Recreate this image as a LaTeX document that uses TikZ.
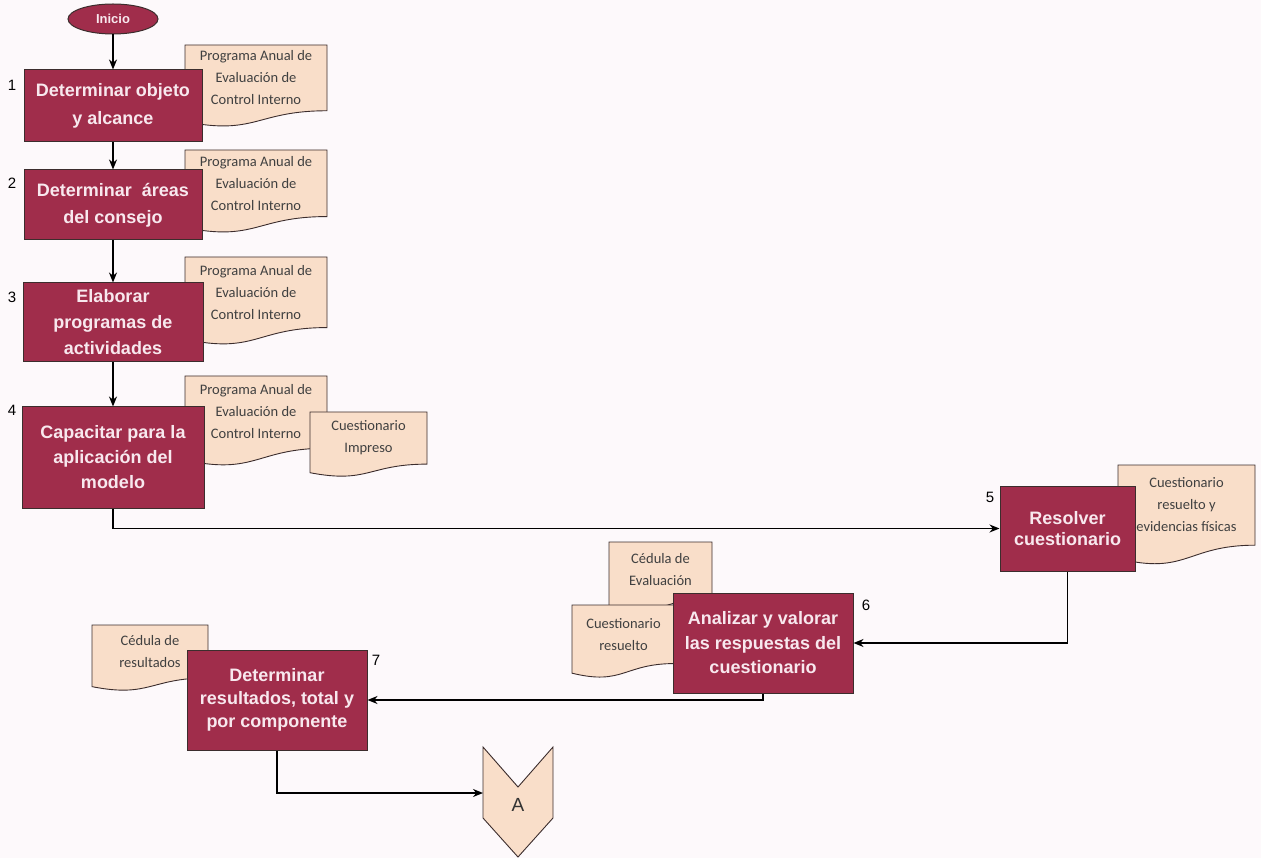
\documentclass[tikz,border=0pt]{standalone}
\usepackage{fontspec}
\setmainfont{Liberation Sans}
\newfontfamily\docfont{Carlito}
\usetikzlibrary{arrows.meta,shapes.geometric}
\definecolor{boxred}{RGB}{160,45,75}
\definecolor{boxtext}{RGB}{248,232,238}
\definecolor{docfill}{RGB}{249,222,201}
\definecolor{edge}{RGB}{60,45,45}
\definecolor{bg}{RGB}{253,249,251}
\tikzset{
  proc/.style={rectangle, draw=edge, line width=1pt, fill=boxred, text=boxtext,
    font=\fontsize{18}{25}\selectfont\bfseries, align=center, inner sep=2pt},
  startnode/.style={ellipse, draw=edge, line width=1pt, fill=boxred, text=boxtext,
    font=\fontsize{13}{15}\selectfont\bfseries, minimum width=90pt, minimum height=30pt, inner sep=0pt},
  doctext/.style={font=\docfont\fontsize{14.5}{22}\selectfont, text=black!75, align=center, inner sep=0pt},
  docshape/.style={fill=docfill, draw=edge, line width=0.9pt},
  numlabel/.style={font=\fontsize{15}{17}\selectfont, text=black, inner sep=0pt},
  flow/.style={draw=black, line width=1.8pt, -{Stealth[length=10pt,width=8pt]}},
}
\newcommand\docu[6]{%
  \path[docshape] (#2,#3) -- (#4,#3) -- (#4,{#3+0.802*#5})
    .. controls ({(#2+#4)/2},{#3+0.802*#5}) and ({(#2+#4)/2},{#3+1.107*#5}) .. (#2,{#3+0.934*#5}) -- cycle;
  \node[doctext] (#1) at ({(#2+#4)/2},{#3+0.4*#5}) {#6};}
\begin{document}
\begin{tikzpicture}[x=1pt,y=-1pt]
\fill[bg] (0,0) rectangle (1261,858);
\useasboundingbox (0,0) rectangle (1261,858);

% documents (behind process boxes)
\docu{d1}{185}{45}{327}{82}{Programa Anual de\\Evaluación de\\Control Interno}
\docu{d2}{185}{150}{327}{83}{Programa Anual de\\Evaluación de\\Control Interno}
\docu{d3}{185}{257}{327}{88}{Programa Anual de\\Evaluación de\\Control Interno}
\docu{d4}{185}{376}{327}{90}{Programa Anual de\\Evaluación de\\Control Interno}
\docu{d4b}{310}{412}{427}{65}{Cuestionario\\Impreso}
\docu{d5}{1118}{465}{1255}{100}{Cuestionario\\resuelto y\\evidencias físicas}
\docu{d6a}{609}{542}{712}{70}{Cédula de\\Evaluación}
\docu{d6b}{572}{605}{675}{73}{Cuestionario\\resuelto}
\docu{d7}{92}{625}{208}{66}{Cédula de\\resultados}

% start
\node[startnode] (ini) at (113,19) {Inicio};

% process boxes
\node[proc, minimum width=178pt, minimum height=72pt, font=\fontsize{18}{28}\selectfont\bfseries] (b1) at (113,106) {Determinar objeto\\y alcance};
\node[proc, minimum width=178pt, minimum height=70pt, font=\fontsize{18}{27}\selectfont\bfseries] (b2) at (113,205) {Determinar~ áreas\\del consejo};
\node[proc, minimum width=180pt, minimum height=79pt, font=\fontsize{18}{26}\selectfont\bfseries] (b3) at (113,322.5) {Elaborar\\programas de\\actividades};
\node[proc, minimum width=182pt, minimum height=101pt] (b4) at (113,457.5) {Capacitar para la\\aplicación del\\modelo};
\node[proc, minimum width=135pt, minimum height=85pt, font=\fontsize{18}{21}\selectfont\bfseries] (b5) at (1067.5,528.5) {Resolver\\cuestionario};
\node[proc, minimum width=180pt, minimum height=100pt, font=\fontsize{18}{24.5}\selectfont\bfseries] (b6) at (763,643) {Analizar y valorar\\las respuestas del\\cuestionario};
\node[proc, minimum width=180pt, minimum height=100pt, font=\fontsize{18}{23}\selectfont\bfseries] (b7) at (277,700) {Determinar\\resultados, total y\\por componente};

% step numbers
\node[numlabel] (n1) at (12,85) {1};
\node[numlabel] (n2) at (12,183) {2};
\node[numlabel] (n3) at (12,297) {3};
\node[numlabel] (n4) at (12,410) {4};
\node[numlabel] (n5) at (990,497) {5};
\node[numlabel] (n6) at (866,605) {6};
\node[numlabel] (n7) at (376,660) {7};

% off-page connector
\path[docshape] (483,747) -- (518,787) -- (553,747) -- (553,818) -- (518,857) -- (483,818) -- cycle;
\node[font=\fontsize{19}{20}\selectfont, text=black!80] (A) at (518,805) {A};
\coordinate (Ain) at (483,793);

% connectors
\draw[flow] (ini) -- (b1);
\draw[flow] (b1) -- (b2);
\draw[flow] (b2) -- (b3);
\draw[flow] (b3) -- (b4);
\draw[flow] (b4.south) |- (b5.west);
\draw[flow] (b5.south) |- (b6.east);
\draw[flow] (b6.south) |- (b7.east);
\draw[flow] (b7.south) |- (Ain);
\end{tikzpicture}
\end{document}
